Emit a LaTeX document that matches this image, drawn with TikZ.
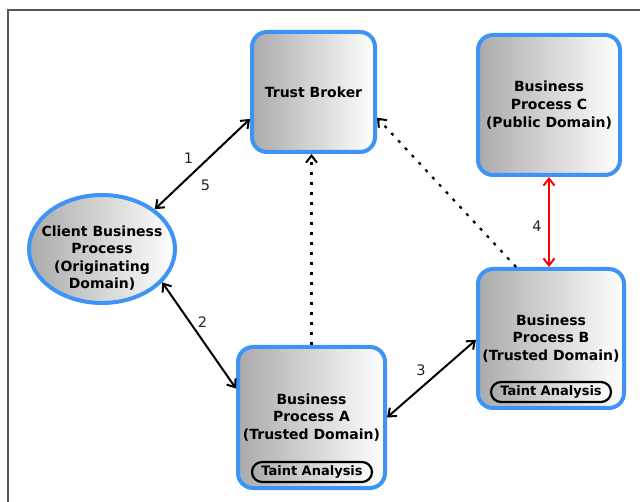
\documentclass[tikz,border=0pt]{standalone}
\usepackage{fontspec}
\setmainfont{DejaVu Sans}
\usetikzlibrary{arrows.meta,shapes.geometric}
\definecolor{procblue}{HTML}{3D94F6}
\definecolor{framegray}{HTML}{555555}
\tikzset{
  shade/.style={left color=black!33, right color=white},
  proc/.style={draw=procblue, line width=4pt, rounded corners=15pt, shade,
    align=center, font=\fontsize{14}{17.7}\selectfont\bfseries},
  client/.style={ellipse, draw=procblue, line width=4pt, shade, inner sep=0pt,
    minimum width=146pt, minimum height=108pt},
  clienttext/.style={align=center, font=\fontsize{14}{17.3}\selectfont\bfseries},
  pill/.style={draw=black, line width=2.2pt, rounded corners=10pt, shade,
    inner sep=0pt, minimum width=120pt, minimum height=20pt,
    font=\fontsize{13}{15}\selectfont\bfseries},
  link/.style={line width=2pt, draw=black, {Straight Barb[length=7pt,width=11pt,line width=2pt]}-{Straight Barb[length=7pt,width=11pt,line width=2pt]}},
  redlink/.style={link, draw=red, color=red},
  notify/.style={line width=2.2pt, dash pattern=on 3pt off 7pt,
    -{Straight Barb[length=7pt,width=11pt,line width=2pt]}},
  steplabel/.style={font=\fontsize{14.5}{16}\selectfont, text=black!85}
}
\begin{document}
\begin{tikzpicture}[x=1pt,y=-1pt]
\useasboundingbox (0,0) rectangle (640,502);
\fill[white] (0,0) rectangle (640,502);
% outer frame
\draw[framegray, line width=1.3pt] (8,510) -- (8,10) -- (650,10);

% processes
\node[proc, minimum width=123pt, minimum height=120pt] (tb) at (313.5,92) {Trust Broker};
\node[proc, minimum width=142pt, minimum height=140pt] (bpc) at (549,105) {Business\\Process C\\(Public Domain)};
\node[client] (cbp) at (102,249) {};
\node[clienttext] (cbptext) at ([yshift=-9pt]cbp.center) {Client Business\\Process\\(Originating\\Domain)};
\node[proc, minimum width=147pt, minimum height=141pt] (bpa) at (311.5,417.5) {Business\\Process A\\(Trusted Domain)};
\node[proc, minimum width=146pt, minimum height=139pt] (bpb) at (551,338.5) {Business\\Process B\\(Trusted Domain)};

% taint analysis tags
\node[pill] (ta) at (312,472) {Taint Analysis};
\node[pill] (tb2) at (551,392) {Taint Analysis};

% message exchanges
\draw[link] (cbp.37) -- (tb.203)
  node[steplabel, pos=0.5, xshift=-14pt, yshift=5.5pt] {1}
  node[steplabel, pos=0.5, xshift=3pt, yshift=-21.5pt] {5};
\draw[link] (cbp.-29) -- (bpa.159)
  node[steplabel, pos=0.5, xshift=3.5pt, yshift=13.5pt] {2};
\draw[link] (bpa.0) -- (bpb.181)
  node[steplabel, pos=0.5, xshift=-10.5pt, yshift=8.5pt] {3};
\draw[redlink] (bpc.south) -- (bpc.south |- bpb.north)
  node[steplabel, pos=0.5, xshift=-12pt, yshift=-4pt] {4};

% reports to the trust broker
\draw[notify] (bpa.north) -- (bpa.north |- tb.south);
\draw[notify] (bpb.116) -- (tb.-22);
\end{tikzpicture}
\end{document}
